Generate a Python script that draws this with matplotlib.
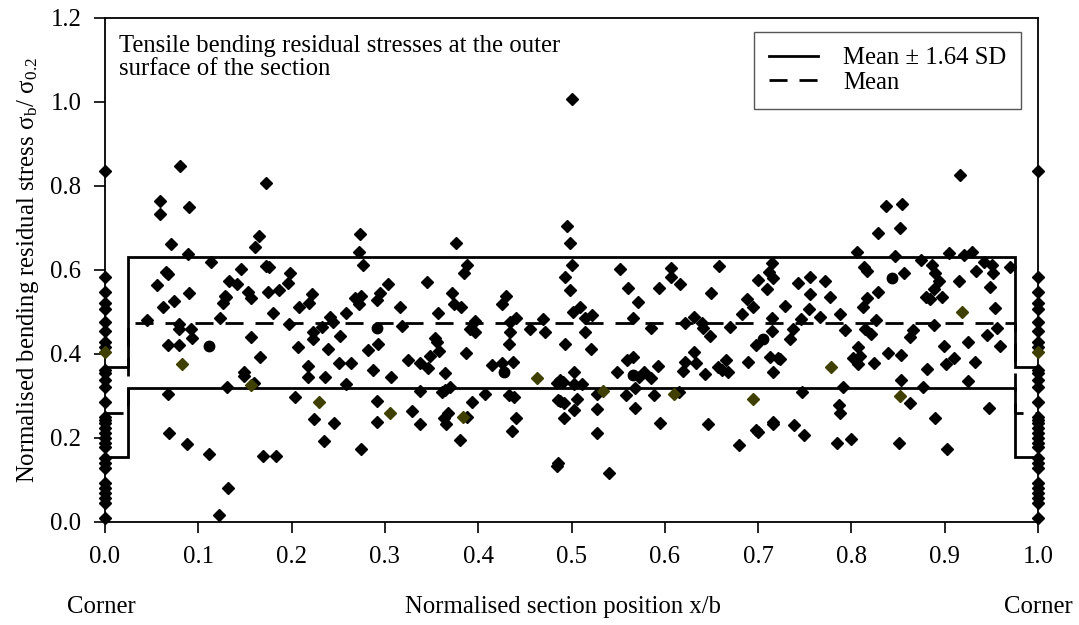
import matplotlib
matplotlib.use("Agg")
import matplotlib.pyplot as plt
from matplotlib.lines import Line2D

plt.rcParams['font.family'] = ['Liberation Serif', 'DejaVu Serif']
plt.rcParams['mathtext.fontset'] = 'stix'
FS = 17.8
plt.rcParams['font.size'] = FS

# ---------------- data ----------------
diamond_x = [0.080, 0.059, 0.059, 0.090, 0.173, 0.165, 0.161, 0.071, 0.089, 0.114, 0.065, 0.068, 0.056, 0.090,
             0.074, 0.062, 0.045, 0.079, 0.079, 0.092, 0.093, 0.067, 0.079, 0.146, 0.173, 0.176, 0.198, 0.133,
             0.141, 0.129, 0.130, 0.127, 0.153, 0.157, 0.175, 0.187, 0.196, 0.180, 0.123, 0.197, 0.157, 0.208,
             0.219, 0.222, 0.223, 0.223, 0.233, 0.207, 0.241,
             0.068, 0.069, 0.088, 0.112, 0.132, 0.122, 0.131, 0.149, 0.149, 0.160, 0.166, 0.169, 0.183, 0.218,
             0.218, 0.236, 0.239, 0.204, 0.224, 0.235,
             0.273, 0.272, 0.276, 0.376, 0.388, 0.385, 0.303, 0.345, 0.295, 0.292, 0.268, 0.274, 0.272, 0.258,
             0.244, 0.252, 0.293, 0.316, 0.318, 0.357, 0.372, 0.374, 0.382, 0.354, 0.356, 0.397, 0.391,
             0.397, 0.426, 0.430, 0.434, 0.441, 0.434, 0.433, 0.456, 0.469, 0.472,
             0.245, 0.251, 0.264, 0.258, 0.282, 0.287, 0.307, 0.292, 0.292, 0.274, 0.325, 0.338, 0.346, 0.348,
             0.358, 0.364, 0.338, 0.329, 0.338, 0.361, 0.364, 0.370, 0.368, 0.363, 0.365, 0.380, 0.387, 0.393,
             0.388, 0.407, 0.415, 0.425, 0.437, 0.433, 0.438, 0.441, 0.436, 0.484, 0.485, 0.484, 0.486,
             0.500, 0.495, 0.498, 0.500, 0.493, 0.498, 0.552, 0.561, 0.571, 0.566, 0.607, 0.607, 0.616, 0.594,
             0.658, 0.650, 0.715, 0.712, 0.716, 0.700, 0.710, 0.688, 0.695, 0.683, 0.729, 0.502, 0.509, 0.522,
             0.515, 0.515, 0.493, 0.521, 0.585, 0.622, 0.631, 0.640, 0.641, 0.648, 0.670, 0.715, 0.715, 0.698,
             0.488, 0.491, 0.503, 0.503, 0.511, 0.488, 0.492, 0.506, 0.503, 0.492, 0.527, 0.527, 0.527, 0.540,
             0.549, 0.559, 0.566, 0.572, 0.578, 0.585, 0.593, 0.558, 0.568, 0.568, 0.588, 0.595, 0.615, 0.619,
             0.622, 0.631, 0.633, 0.643, 0.646, 0.657, 0.661, 0.666, 0.668, 0.689, 0.713, 0.721, 0.716, 0.680,
             0.698, 0.700, 0.716, 0.716,
             0.916, 0.837, 0.854, 0.828, 0.852, 0.806, 0.847, 0.875, 0.886, 0.890, 0.905, 0.921, 0.929, 0.942,
             0.951, 0.952, 0.970, 0.813, 0.817, 0.856, 0.894, 0.915, 0.934, 0.949, 0.889, 0.880, 0.884, 0.897,
             0.743, 0.756, 0.772, 0.756, 0.777, 0.755, 0.828, 0.817, 0.812, 0.766, 0.788, 0.746, 0.737, 0.734,
             0.793, 0.807, 0.826, 0.815, 0.821, 0.866, 0.863, 0.889, 0.954, 0.956, 0.945, 0.959, 0.925, 0.899,
             0.724, 0.747, 0.739, 0.749, 0.809, 0.802, 0.807, 0.824, 0.839, 0.853, 0.853, 0.791, 0.787, 0.788,
             0.785, 0.800, 0.863, 0.851, 0.881, 0.877, 0.901, 0.910, 0.932, 0.925, 0.890, 0.903, 0.948]
diamond_y = [0.848, 0.765, 0.733, 0.749, 0.808, 0.681, 0.654, 0.661, 0.639, 0.618, 0.596, 0.590, 0.564, 0.546,
             0.527, 0.511, 0.481, 0.471, 0.459, 0.459, 0.437, 0.421, 0.421, 0.602, 0.610, 0.608, 0.594, 0.575,
             0.567, 0.538, 0.535, 0.522, 0.547, 0.533, 0.547, 0.553, 0.569, 0.497, 0.486, 0.471, 0.441, 0.511,
             0.522, 0.543, 0.452, 0.435, 0.464, 0.417, 0.489,
             0.305, 0.213, 0.186, 0.163, 0.080, 0.017, 0.321, 0.356, 0.348, 0.330, 0.392, 0.158, 0.156, 0.372,
             0.346, 0.345, 0.413, 0.297, 0.246, 0.194,
             0.686, 0.644, 0.612, 0.665, 0.612, 0.594, 0.567, 0.572, 0.546, 0.529, 0.533, 0.537, 0.518, 0.497,
             0.477, 0.443, 0.425, 0.511, 0.467, 0.498, 0.546, 0.519, 0.513, 0.437, 0.429, 0.479, 0.459,
             0.453, 0.519, 0.537, 0.477, 0.486, 0.452, 0.424, 0.459, 0.483, 0.453,
             0.236, 0.378, 0.379, 0.328, 0.410, 0.362, 0.346, 0.288, 0.237, 0.175, 0.386, 0.379, 0.367, 0.396,
             0.407, 0.354, 0.312, 0.264, 0.233, 0.310, 0.314, 0.322, 0.260, 0.248, 0.233, 0.195, 0.402, 0.285,
             0.251, 0.305, 0.374, 0.378, 0.382, 0.302, 0.297, 0.247, 0.217, 0.330, 0.290, 0.133, 0.140,
             1.008, 0.705, 0.665, 0.612, 0.584, 0.552, 0.602, 0.556, 0.523, 0.485, 0.604, 0.584, 0.567, 0.556,
             0.610, 0.546, 0.616, 0.596, 0.580, 0.576, 0.555, 0.531, 0.513, 0.495, 0.514, 0.499, 0.511, 0.493,
             0.485, 0.452, 0.424, 0.413, 0.463, 0.475, 0.487, 0.475, 0.463, 0.443, 0.464, 0.485, 0.455, 0.421,
             0.338, 0.334, 0.356, 0.328, 0.328, 0.288, 0.283, 0.294, 0.267, 0.248, 0.305, 0.268, 0.211, 0.116,
             0.356, 0.386, 0.392, 0.346, 0.356, 0.342, 0.372, 0.302, 0.318, 0.271, 0.302, 0.236, 0.310, 0.360,
             0.380, 0.405, 0.378, 0.352, 0.233, 0.370, 0.362, 0.386, 0.358, 0.380, 0.392, 0.390, 0.358, 0.183,
             0.219, 0.214, 0.239, 0.234,
             0.826, 0.752, 0.757, 0.689, 0.699, 0.644, 0.634, 0.625, 0.612, 0.594, 0.641, 0.636, 0.644, 0.620,
             0.612, 0.594, 0.608, 0.608, 0.598, 0.594, 0.575, 0.575, 0.598, 0.560, 0.554, 0.536, 0.530, 0.536,
             0.570, 0.584, 0.575, 0.542, 0.536, 0.508, 0.547, 0.534, 0.513, 0.487, 0.495, 0.483, 0.459, 0.435,
             0.456, 0.417, 0.481, 0.459, 0.447, 0.456, 0.440, 0.469, 0.509, 0.461, 0.445, 0.420, 0.428, 0.420,
             0.388, 0.310, 0.231, 0.206, 0.395, 0.390, 0.376, 0.379, 0.402, 0.398, 0.338, 0.321, 0.279, 0.259,
             0.187, 0.198, 0.284, 0.187, 0.364, 0.321, 0.376, 0.390, 0.382, 0.336, 0.247, 0.174, 0.271]

olive_x = [0.083, 0.157, 0.229, 0.305, 0.384, 0.463, 0.534, 0.610, 0.695, 0.778, 0.852, 0.919]
olive_y = [0.376, 0.326, 0.286, 0.260, 0.251, 0.344, 0.313, 0.304, 0.292, 0.370, 0.300, 0.499]

circle_x = [0.111, 0.291, 0.428, 0.566, 0.705, 0.843]
circle_y = [0.419, 0.461, 0.358, 0.350, 0.435, 0.582]

corner_y = [0.836, 0.584, 0.548, 0.522, 0.506, 0.477, 0.455, 0.429, 0.417, 0.362, 0.354, 0.338, 0.322,
            0.286, 0.251, 0.243, 0.235, 0.223, 0.211, 0.199, 0.187, 0.179, 0.152, 0.140, 0.128, 0.092,
            0.080, 0.068, 0.056, 0.045, 0.009]
corner_olive_y = [0.405]

corner_width = 0.025
mean_centre, mean_corner = 0.4745, 0.26
upper_centre, upper_corner = 0.632, 0.368
lower_centre, lower_corner = 0.318, 0.154

x_ticks = [0.0, 0.1, 0.2, 0.3, 0.4, 0.5, 0.6, 0.7, 0.8, 0.9, 1.0]
y_ticks = [0.0, 0.2, 0.4, 0.6, 0.8, 1.0, 1.2]

# ---------------- figure ----------------
fig = plt.figure(figsize=(10.79, 6.25), dpi=100)
ax = fig.add_axes([105 / 1079, 103 / 625, 933 / 1079, 504 / 625])

def step(centre, corner):
    xs = [0.0, corner_width, corner_width, 1 - corner_width, 1 - corner_width, 1.0]
    ys = [corner, corner, centre, centre, corner, corner]
    return xs, ys

ux, uy = step(upper_centre, upper_corner)
lx, ly = step(lower_centre, lower_corner)
mx, my = step(mean_centre, mean_corner)
ax.plot(ux, uy, color='black', lw=2.0, zorder=2, solid_joinstyle='miter')
ax.plot(lx, ly, color='black', lw=2.0, zorder=2, solid_joinstyle='miter')
ax.plot(mx, my, color='black', lw=2.0, dashes=(6.5, 4.3), zorder=2)

ms = 6.0
ax.plot(diamond_x, diamond_y, ls='none', marker='D', ms=ms, color='black', zorder=3)
ax.plot(olive_x, olive_y, ls='none', marker='D', ms=ms, color='#3f3f00', zorder=3)
ax.plot(circle_x, circle_y, ls='none', marker='o', ms=7.5, color='black', zorder=3)
for cx in (0.0, 1.0):
    ax.plot([cx] * len(corner_y), corner_y, ls='none', marker='D', ms=ms, color='black',
            zorder=4, clip_on=False)
    ax.plot([cx] * len(corner_olive_y), corner_olive_y, ls='none', marker='D', ms=ms,
            color='#3f3f00', zorder=4, clip_on=False)

ax.set_xlim(0, 1.0)
ax.set_ylim(0, 1.2)
ax.set_xticks(x_ticks)
ax.set_yticks(y_ticks)
ax.set_xticklabels([f"{t:.1f}" for t in x_ticks])
ax.set_yticklabels([f"{t:.1f}" for t in y_ticks])
ax.tick_params(direction='out', length=8, width=1.2, pad=9, labelsize=FS)
for s in ax.spines.values():
    s.set_linewidth(1.3)

ax.set_ylabel('Normalised bending residual stress σ$_\\mathregular{b}$/ σ$_\\mathregular{0.2}$',
              fontsize=FS, labelpad=7)
fig.text(563 / 1079, 1 - 607 / 625, 'Normalised section position x/b', ha='center', va='center', fontsize=FS)
fig.text(101 / 1079, 1 - 607 / 625, 'Corner', ha='center', va='center', fontsize=FS)
fig.text(1038 / 1079, 1 - 607 / 625, 'Corner', ha='center', va='center', fontsize=FS)

ax.text(0.015, 0.966, 'Tensile bending residual stresses at the outer\nsurface of the section',
        transform=ax.transAxes, ha='left', va='top', fontsize=FS, linespacing=1.05)

handles = [Line2D([], [], color='black', lw=2.0),
           Line2D([], [], color='black', lw=2.0, dashes=(6.5, 4.3))]
leg = ax.legend(handles, ['Mean ± 1.64 SD', 'Mean'], loc='upper right',
                bbox_to_anchor=(0.9818, 0.972), borderaxespad=0, fancybox=False,
                edgecolor='#555555', framealpha=1, fontsize=FS, handlelength=2.0,
                handletextpad=1.0, labelspacing=0.1, borderpad=0.6)
leg.get_frame().set_linewidth(1.0)

fig.savefig('out.png', dpi=100)
